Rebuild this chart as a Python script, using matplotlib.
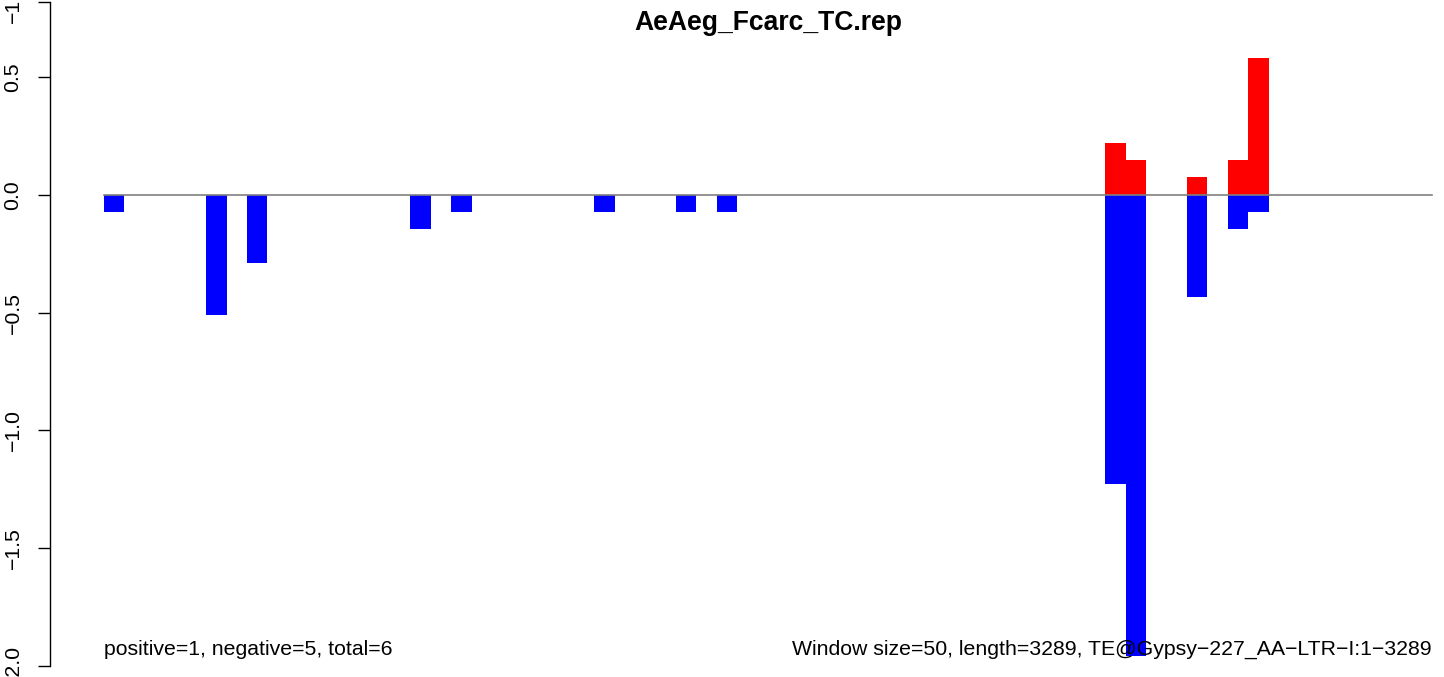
import numpy as np
import matplotlib
matplotlib.use("Agg")
import matplotlib.pyplot as plt

plt.rcParams['font.family'] = ['Liberation Sans', 'DejaVu Sans']

# window counts (window size 50, 65 windows drawn)
n_windows = 65
neg_bins = [0, 5, 7, 15, 17, 24, 28, 30, 49, 50, 53, 55, 56]
neg_vals = [-0.074, -0.509, -0.288, -0.147, -0.074, -0.074, -0.074, -0.074,
            -1.227, -1.956, -0.434, -0.147, -0.073]
pos_bins = [49, 50, 53, 55, 56]
pos_vals = [0.22, 0.147, 0.074, 0.147, 0.581]

ytick_pos = [-2.0, -1.5, -1.0, -0.5, 0.0, 0.5, 0.818]
ytick_lab = ['\u22122.0', '\u22121.5', '\u22121.0', '\u22120.5', '0.0', '0.5', '\u22121.0']

title = "AeAeg_Fcarc_TC.rep"
left_note = "positive=1, negative=5, total=6"
right_note = "Window size=50, length=3289, TE@Gypsy\u2212227_AA\u2212LTR\u2212I:1\u22123289"

W, H = 1444, 677
fig = plt.figure(figsize=(W / 100, H / 100), dpi=100)
ax = fig.add_axes([50 / W, 0, 1 - 50 / W, 1])

bw = (1432 - 104) / n_windows
ax.set_xlim((50 - 104) / bw, (W - 104) / bw)
ax.set_ylim(-(H - 194.8) / 235.6, 194.8 / 235.6)

ax.bar(neg_bins, neg_vals, width=1, align='edge', color='#0000ff', linewidth=0)
ax.bar(pos_bins, pos_vals, width=1, align='edge', color='#ff0000', linewidth=0)
ax.plot([0, n_windows], [0, 0], color='#808080', lw=1.2, zorder=3)

for s in ['top', 'right', 'bottom']:
    ax.spines[s].set_visible(False)
ax.spines['left'].set_bounds(-2.0, ytick_pos[-1])
ax.spines['left'].set_linewidth(1.0)
ax.set_xticks([])
ax.set_yticks(ytick_pos)
ax.set_yticklabels(ytick_lab, rotation=90, va='center', fontsize=15.3)
ax.tick_params(axis='y', direction='out', length=9, width=1.0, pad=10.8)

fig.text(768 / W, 1 - 30 / H, title, ha='center', va='baseline',
         fontsize=19.1, fontweight='bold')
ax.text(0, -(655 - 194.8) / 235.6, left_note, ha='left', va='baseline', fontsize=15.3)
ax.text(n_windows, -(655 - 194.8) / 235.6, right_note, ha='right', va='baseline', fontsize=15.3)

fig.savefig("out.png", dpi=100)
